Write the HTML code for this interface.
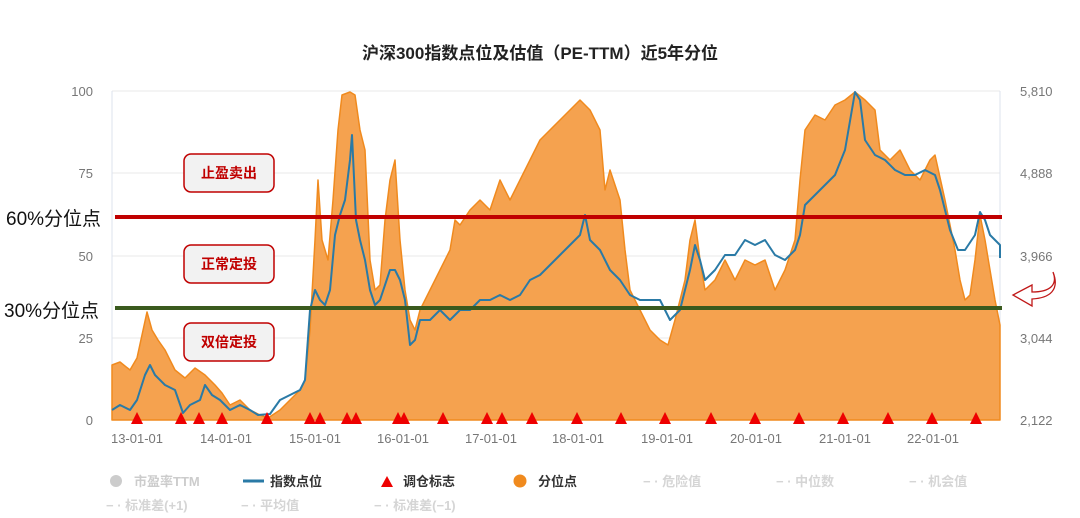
<!DOCTYPE html>
<html><head><meta charset="utf-8"><style>
body{margin:0;background:#fff;}
svg{display:block;font-family:"Liberation Sans","Noto Sans CJK SC",sans-serif;}
</style></head><body>
<svg width="1080" height="518" viewBox="0 0 1080 518">
<text x="540" y="59" text-anchor="middle" font-size="17" font-weight="bold" fill="#222">沪深300指数点位及估值（PE-TTM）近5年分位</text>
<g stroke="#e8e8e8" stroke-width="1">
<line x1="112" y1="91" x2="1000" y2="91"/><line x1="112" y1="173" x2="1000" y2="173"/>
<line x1="112" y1="256" x2="1000" y2="256"/><line x1="112" y1="338" x2="1000" y2="338"/>
</g>
<line x1="112" y1="91" x2="112" y2="420" stroke="#dde3ee"/>
<line x1="1000" y1="91" x2="1000" y2="420" stroke="#dde3ee"/>
<g font-size="13" fill="#777" text-anchor="end">
<text x="93" y="96">100</text><text x="93" y="178">75</text><text x="93" y="261">50</text><text x="93" y="343">25</text><text x="93" y="425">0</text>
</g>
<g font-size="13" fill="#777" text-anchor="start">
<text x="1020" y="96">5,810</text><text x="1020" y="178">4,888</text><text x="1020" y="261">3,966</text><text x="1020" y="343">3,044</text><text x="1020" y="425">2,122</text>
</g>
<g font-size="13" fill="#777" text-anchor="middle">
<text x="137" y="443">13-01-01</text><text x="226" y="443">14-01-01</text><text x="315" y="443">15-01-01</text><text x="403" y="443">16-01-01</text><text x="491" y="443">17-01-01</text><text x="578" y="443">18-01-01</text><text x="667" y="443">19-01-01</text><text x="756" y="443">20-01-01</text><text x="845" y="443">21-01-01</text><text x="933" y="443">22-01-01</text>
</g>
<polygon fill="#f5a24f" stroke="#f08a1e" stroke-width="1.5" stroke-linejoin="round" points="112,420 112,365 120,362 130,370 137,358 142,335 147,312 152,330 158,340 165,350 175,370 185,378 195,368 205,375 215,385 222,393 230,405 240,400 250,410 260,415 268,418 280,410 290,400 300,390 305,380 310,330 315,240 318,180 322,240 328,260 333,200 338,130 342,95 350,92 355,95 360,130 365,150 370,260 375,290 380,285 385,220 390,180 395,160 400,240 405,290 410,320 415,330 420,310 430,290 440,270 450,250 455,220 460,225 470,210 480,200 490,210 500,180 510,200 520,180 530,160 540,140 550,130 560,120 570,110 580,100 590,110 600,130 605,190 610,170 620,200 625,250 630,290 640,310 650,330 660,340 668,345 675,320 685,280 690,240 695,220 700,260 705,290 715,280 725,260 735,280 745,260 755,265 765,260 775,290 785,270 795,240 800,180 805,130 815,115 825,120 835,105 845,100 855,92 865,100 875,110 880,150 890,160 900,150 910,170 920,180 930,160 935,155 945,200 955,250 960,280 965,300 970,295 975,260 980,215 985,240 990,270 995,300 1000,325 1000,420"/>
<polyline fill="none" stroke="#2a7aa6" stroke-width="2" stroke-linejoin="round" points="112,410 120,405 130,410 137,400 145,375 150,365 155,375 165,385 175,390 183,413 190,405 200,400 205,385 212,395 220,400 230,410 240,405 250,410 258,415 270,414 280,400 290,395 300,390 305,380 310,310 315,290 320,300 325,305 330,290 335,235 340,215 345,200 350,160 352,135 356,220 360,240 365,260 370,290 375,305 380,300 390,270 395,270 400,280 405,300 410,345 415,340 420,320 430,320 440,310 450,320 460,310 470,310 480,300 490,300 500,295 510,300 520,295 530,280 540,275 550,265 560,255 570,245 580,235 585,215 590,240 600,250 610,270 620,280 630,295 640,300 650,300 660,300 670,320 680,310 685,290 690,270 695,245 700,260 705,280 715,270 725,255 735,255 745,240 755,245 765,240 775,255 785,260 795,250 800,235 805,205 815,195 825,185 835,175 845,150 855,92 860,100 865,140 875,155 885,160 895,170 905,175 915,175 925,170 935,175 940,190 950,230 958,250 965,250 975,235 980,212 985,220 990,235 1000,245 1000,258"/>
<line x1="115" y1="217" x2="1002" y2="217" stroke="#c00000" stroke-width="4"/>
<line x1="115" y1="308" x2="1002" y2="308" stroke="#3a5a1e" stroke-width="4"/>
<g fill="#ee0000">
<polygon points="131,424 137,412 143,424"/><polygon points="175,424 181,412 187,424"/><polygon points="193,424 199,412 205,424"/><polygon points="216,424 222,412 228,424"/><polygon points="261,424 267,412 273,424"/><polygon points="304,424 310,412 316,424"/><polygon points="314,424 320,412 326,424"/><polygon points="341,424 347,412 353,424"/><polygon points="350,424 356,412 362,424"/><polygon points="392,424 398,412 404,424"/><polygon points="398,424 404,412 410,424"/><polygon points="437,424 443,412 449,424"/><polygon points="481,424 487,412 493,424"/><polygon points="496,424 502,412 508,424"/><polygon points="526,424 532,412 538,424"/><polygon points="571,424 577,412 583,424"/><polygon points="615,424 621,412 627,424"/><polygon points="659,424 665,412 671,424"/><polygon points="705,424 711,412 717,424"/><polygon points="749,424 755,412 761,424"/><polygon points="793,424 799,412 805,424"/><polygon points="837,424 843,412 849,424"/><polygon points="882,424 888,412 894,424"/><polygon points="926,424 932,412 938,424"/><polygon points="970,424 976,412 982,424"/>
</g>
<g font-size="14" fill="#c00000" text-anchor="middle" font-weight="bold">
<rect x="184" y="154" width="90" height="38" rx="7" fill="#f2f2f2" stroke="#c00000" stroke-width="1.5"/><text x="229" y="178">止盈卖出</text>
<rect x="184" y="245" width="90" height="38" rx="7" fill="#f2f2f2" stroke="#c00000" stroke-width="1.5"/><text x="229" y="269">正常定投</text>
<rect x="184" y="323" width="90" height="38" rx="7" fill="#f2f2f2" stroke="#c00000" stroke-width="1.5"/><text x="229" y="347">双倍定投</text>
</g>
<text x="6" y="225" font-size="19" fill="#111">60%分位点</text>
<text x="4" y="317" font-size="19" fill="#111">30%分位点</text>
<path d="M1053,272 C1058,285 1050,292 1032,292 L1032,285 L1013,295 L1032,306 L1032,299 C1050,298 1060,290 1053,272 Z" fill="#fff" stroke="#c01818" stroke-width="1.3"/>
<g font-size="13" font-weight="bold">
<circle cx="116" cy="481" r="6" fill="#ccc"/><text x="134" y="486" fill="#ccc">市盈率TTM</text>
<line x1="243" y1="481" x2="264" y2="481" stroke="#2a7aa6" stroke-width="3"/><text x="270" y="486" fill="#333">指数点位</text>
<polygon points="381,487 387,476 393,487" fill="#ee0000"/><text x="403" y="486" fill="#333">调仓标志</text>
<circle cx="520" cy="481" r="6.5" fill="#f08a1e"/><text x="538" y="486" fill="#333">分位点</text>
<text x="643" y="486" fill="#d5d5d5">− · 危险值</text>
<text x="776" y="486" fill="#d5d5d5">− · 中位数</text>
<text x="909" y="486" fill="#d5d5d5">− · 机会值</text>
<text x="106" y="510" fill="#d5d5d5">− · 标准差(+1)</text>
<text x="241" y="510" fill="#d5d5d5">− · 平均值</text>
<text x="374" y="510" fill="#d5d5d5">− · 标准差(−1)</text>
</g>
</svg>
</body></html>
